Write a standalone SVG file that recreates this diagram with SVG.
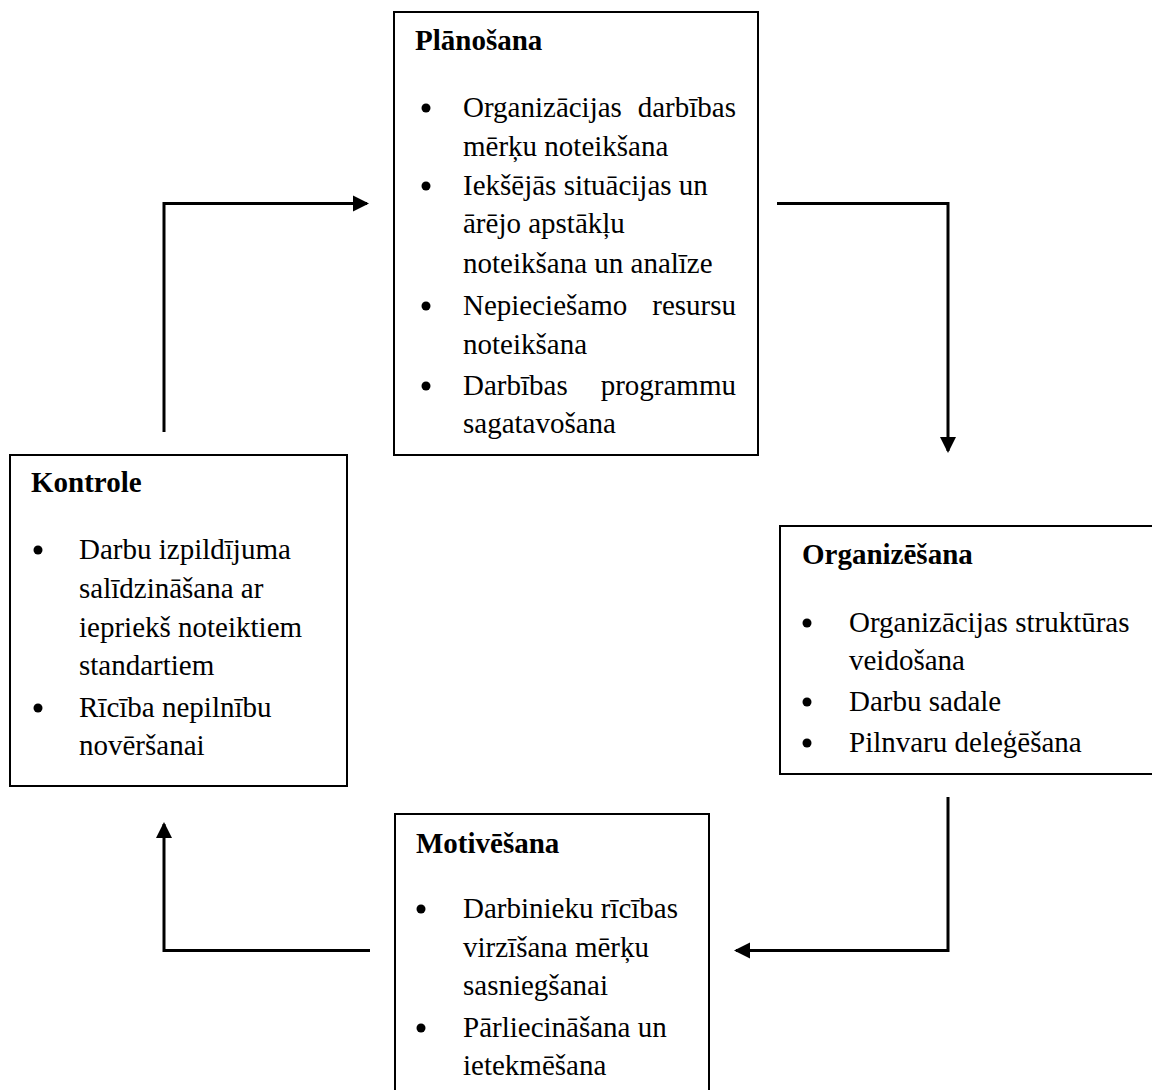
<svg xmlns="http://www.w3.org/2000/svg" width="1152" height="1090" viewBox="0 0 1152 1090">
<defs>
<style>
.box{fill:#fff;stroke:#000;stroke-width:2}
.t{font-family:"Liberation Serif","Times New Roman",serif;font-size:29px;fill:#000}
.h{font-family:"Liberation Serif","Times New Roman",serif;font-size:29px;font-weight:bold;fill:#000}
.e{text-anchor:end}
.c{fill:none;stroke:#000;stroke-width:3}
</style>
<marker id="ah" markerUnits="userSpaceOnUse" viewBox="0 0 16 16" markerWidth="16" markerHeight="16" refX="14" refY="8" orient="auto" overflow="visible">
<path d="M0,0 L16,8 L0,16 z" fill="#000"/>
</marker>
</defs>
<rect width="1152" height="1090" fill="#fff"/>
<g id="connectors">
<polyline class="c" points="164,432 164,203.5 367,203.5" marker-end="url(#ah)"/>
<polyline class="c" points="777,203.5 948,203.5 948,451" marker-end="url(#ah)"/>
<polyline class="c" points="948,797 948,950.5 736,950.5" marker-end="url(#ah)"/>
<polyline class="c" points="370,950.5 164,950.5 164,824" marker-end="url(#ah)"/>
</g>
<g id="planosana">
<rect class="box" x="394" y="12" width="364" height="443"/>
<text class="h" x="415" y="50">Plānošana</text>
<circle cx="426" cy="108" r="4.5"/>
<circle cx="426" cy="186" r="4.5"/>
<circle cx="426" cy="306" r="4.5"/>
<circle cx="426" cy="386" r="4.5"/>
<text class="t" x="463" y="117">Organizācijas</text><text class="t e" x="736" y="117">darbības</text>
<text class="t" x="463" y="156">mērķu noteikšana</text>
<text class="t" x="463" y="195">Iekšējās situācijas un</text>
<text class="t" x="463" y="233">ārējo apstākļu</text>
<text class="t" x="463" y="273">noteikšana un analīze</text>
<text class="t" x="463" y="315">Nepieciešamo</text><text class="t e" x="736" y="315">resursu</text>
<text class="t" x="463" y="354">noteikšana</text>
<text class="t" x="463" y="395">Darbības</text><text class="t e" x="736" y="395">programmu</text>
<text class="t" x="463" y="433">sagatavošana</text>
</g>
<g id="kontrole">
<rect class="box" x="10" y="455" width="337" height="331"/>
<text class="h" x="31" y="492">Kontrole</text>
<circle cx="38" cy="550" r="4.5"/>
<circle cx="38" cy="708" r="4.5"/>
<text class="t" x="79" y="559">Darbu izpildījuma</text>
<text class="t" x="79" y="598">salīdzināšana ar</text>
<text class="t" x="79" y="637">iepriekš noteiktiem</text>
<text class="t" x="79" y="675">standartiem</text>
<text class="t" x="79" y="717">Rīcība nepilnību</text>
<text class="t" x="79" y="755">novēršanai</text>
</g>
<g id="organizesana">
<rect class="box" x="780" y="526" width="380" height="248"/>
<text class="h" x="802" y="564">Organizēšana</text>
<circle cx="807" cy="623" r="4.5"/>
<circle cx="807" cy="702" r="4.5"/>
<circle cx="807" cy="743" r="4.5"/>
<text class="t" x="849" y="632">Organizācijas struktūras</text>
<text class="t" x="849" y="670">veidošana</text>
<text class="t" x="849" y="711">Darbu sadale</text>
<text class="t" x="849" y="752">Pilnvaru deleģēšana</text>
</g>
<g id="motivesana">
<rect class="box" x="395" y="814" width="314" height="290"/>
<text class="h" x="416" y="853">Motivēšana</text>
<circle cx="421" cy="909" r="4.5"/>
<circle cx="421" cy="1028" r="4.5"/>
<text class="t" x="463" y="918">Darbinieku rīcības</text>
<text class="t" x="463" y="957">virzīšana mērķu</text>
<text class="t" x="463" y="995">sasniegšanai</text>
<text class="t" x="463" y="1037">Pārliecināšana un</text>
<text class="t" x="463" y="1075">ietekmēšana</text>
</g>
</svg>
